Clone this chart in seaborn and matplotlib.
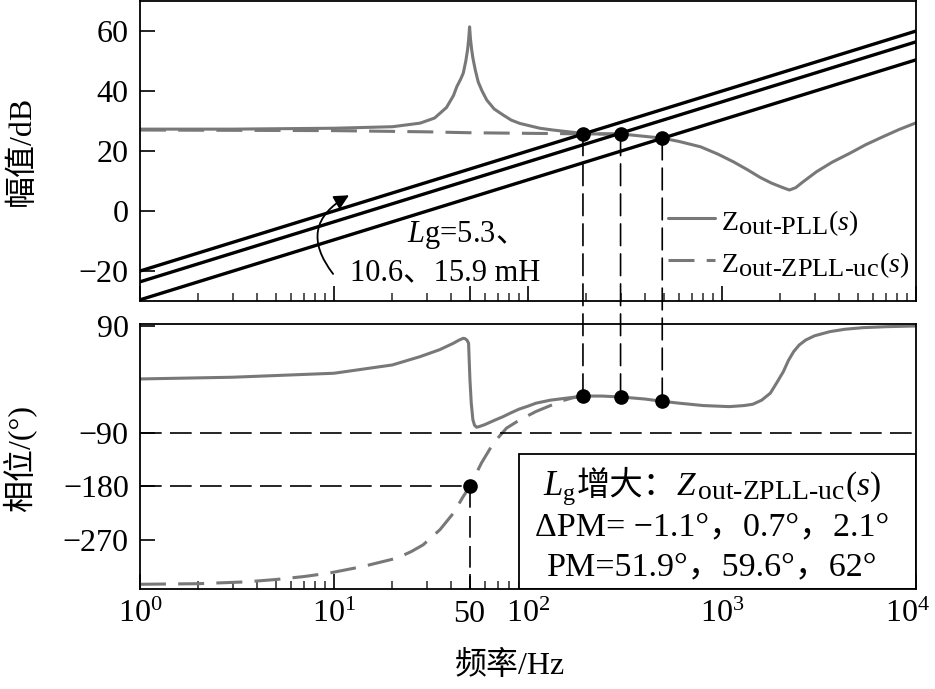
import matplotlib
matplotlib.use("Agg")
import matplotlib.pyplot as plt
import seaborn as sns
from matplotlib.patches import ConnectionPatch, Rectangle
from matplotlib.offsetbox import TextArea, HPacker, AnnotationBbox
from matplotlib.ticker import FixedLocator, LogLocator, NullFormatter
from matplotlib.transforms import ScaledTranslation

# --- magnitude curves ---
pll_freq = [1, 3, 10, 20, 27.8, 33, 38, 41.3, 43, 45, 46.4, 47.8, 48.8, 49.5,
            50, 50.5, 51.2, 52, 53.5, 55.4, 58, 61.3, 67, 74.5, 82, 90.8, 115,
            134.6, 178, 192, 300, 492, 600, 776, 950, 1145, 1350, 1573, 1800,
            2040, 2225, 2400, 2600, 3070, 3700, 4540, 5500, 6770, 8200, 10000]
pll_mag = [27.3, 27.3, 27.6, 28.1, 29.3, 31.0, 34.5, 38.5, 41.5, 44.0, 46.0,
           50.0, 53.7, 57.5, 61.4, 57.5, 54.0, 51.0, 47.0, 43.0, 40.0, 37.0,
           34.0, 32.0, 30.3, 29.2, 27.6, 27.0, 26.1, 25.7, 25.7, 24.3, 23.2,
           21.4, 19.0, 16.4, 13.8, 11.2, 9.3, 7.9, 7.0, 7.8, 9.6, 13.1, 16.3,
           19.2, 22.1, 24.8, 27.2, 29.4]

uc_freq = [1, 10, 30, 50, 100, 150, 192, 250, 300]
uc_mag = [27.0, 26.8, 26.4, 26.1, 25.9, 25.8, 25.7, 25.7, 25.6]

# --- phase curves ---
pll_ph_freq = [1, 3, 10, 20, 27.8, 35, 41.3, 44, 46.4, 47.5, 48.5, 49.4, 49.8,
               50.2, 51, 52, 53, 54.3, 56, 60, 67, 74.5, 82, 90, 100, 110, 130,
               158, 192, 240, 300, 400, 492, 601, 800, 1092, 1300, 1441, 1600,
               1774, 1920, 2070, 2200, 2340, 2500, 2705, 3000, 3600, 4300, 5330,
               7000, 10000]
pll_phase = [0.8, 3.7, 10.4, 24.4, 38.4, 50, 61, 66, 69.3, 68.5, 66, 61, 30,
             0, -40, -68, -77, -80.5, -79.5, -76, -69, -62.6, -56, -50, -45,
             -40, -35, -31.5, -28, -28, -29.5, -33, -36.8, -40, -44, -45.8, -44,
             -41.8, -35, -23.2, -5, 13, 32, 46.8, 58, 66.5, 73.5, 80.5, 84.5,
             87.2, 88.8, 90]

uc_ph_freq = [1, 2, 3.5, 5, 7, 9.5, 14.1, 21.1, 25, 28.8, 35.2, 41.3, 46.4,
              50.2, 57.5, 66.4, 77.5, 90.8, 110, 124, 150, 170, 192]
uc_phase = [-345, -344, -341, -337, -332, -326, -315, -301, -290, -278.6,
            -253, -225, -197, -180, -141, -107, -82, -68, -54, -47, -36, -31, -28]

# --- grid impedance lines for Lg = 5.3, 10.6, 15.9 mH (end points) ---
lg_freq = [1, 10000]
lg_mag_53 = [-29.6, 50.4]
lg_mag_106 = [-23.6, 56.4]
lg_mag_159 = [-20.0, 60.0]

# crossing points
cross_freq = [192, 300, 492]
cross_mag = [25.7, 25.7, 24.3]
cross_phase = [-27.8, -29.5, -36.8]
pc_freq = [50]
pc_phase = [-180]

xtick_vals = [1, 10, 50, 100, 1000, 10000]
xtick_labels = [r"$10^{0}$", r"$10^{1}$", "50", r"$10^{2}$", r"$10^{3}$", r"$10^{4}$"]
mag_ticks = [60, 40, 20, 0, -20]
phase_ticks = [90, -90, -180, -270]

GRAY = "#787878"

sns.set_theme(style="ticks")
plt.rcParams["font.family"] = ["Liberation Serif", "Noto Sans CJK SC"]
plt.rcParams["mathtext.fontset"] = "custom"
plt.rcParams["mathtext.rm"] = "Liberation Serif"
plt.rcParams["mathtext.it"] = "Liberation Serif:italic"
plt.rcParams["axes.unicode_minus"] = True
plt.rcParams["text.color"] = "black"
plt.rcParams["axes.labelcolor"] = "black"


def rich_text(ax, parts, xy, align, coords="data"):
    # mathtext and CJK can't share one string, so pack the pieces side by side
    areas = [TextArea(s, textprops=dict(fontsize=sz, color="black")) for s, sz in parts]
    box = HPacker(children=areas, align="baseline", pad=0, sep=0)
    ab = AnnotationBbox(box, xy, xycoords=coords, box_alignment=align,
                        frameon=False, pad=0, zorder=4)
    ax.add_artist(ab)


def z_parts(sub, size, sub_size, italic=False):
    z = r"$Z$" if italic else "Z"
    return [(z, size), (r"${}_{\mathrm{" + sub + "}}$", sub_size / 0.7),
            (r"$(s)$", size)]


fig = plt.figure(figsize=(9.35, 6.89), dpi=100)
ax1 = fig.add_axes([0.1497, 0.5631, 0.8300, 0.4354])
ax2 = fig.add_axes([0.1497, 0.1451, 0.8300, 0.3847])

for ax in (ax1, ax2):
    ax.set_xscale("log")

# magnitude
sns.lineplot(x=uc_freq, y=uc_mag, ax=ax1, color=GRAY, linewidth=2.2,
             estimator=None, sort=False)
ax1.lines[-1].set_dashes((8.5, 4))
sns.lineplot(x=pll_freq, y=pll_mag, ax=ax1, color=GRAY, linewidth=2.2,
             estimator=None, sort=False)
for mags in (lg_mag_53, lg_mag_106, lg_mag_159):
    sns.lineplot(x=lg_freq, y=mags, ax=ax1, color="black", linewidth=2.4,
                 estimator=None, sort=False)
ax1.plot(cross_freq, cross_mag, "o", color="black", ms=9.5, zorder=6)

# phase
sns.lineplot(x=uc_ph_freq, y=uc_phase, ax=ax2, color=GRAY, linewidth=2.2,
             estimator=None, sort=False)
ax2.lines[-1].set_dashes((8.5, 4))
sns.lineplot(x=pll_ph_freq, y=pll_phase, ax=ax2, color=GRAY, linewidth=2.2,
             estimator=None, sort=False)
ax2.plot(cross_freq, cross_phase, "o", color="black", ms=9.5, zorder=6)
ax2.plot(pc_freq, pc_phase, "o", color="black", ms=9.5, zorder=6)

ax1.set_xlim(1, 10000)
ax2.set_xlim(1, 10000)
ax1.set_ylim(-30, 70)
ax2.set_ylim(-353, 93.4)

dash_kw = dict(color="black", linewidth=1.2, dashes=(13, 5))
ax2.axhline(-90, **dash_kw)
ax2.plot([ax2.get_xlim()[0], pc_freq[0]], [pc_phase[0]] * 2, **dash_kw)
ax2.plot([pc_freq[0]] * 2, [pc_phase[0], ax2.get_ylim()[0]], **dash_kw)

for f, m, p in zip(cross_freq, cross_mag, cross_phase):
    con = ConnectionPatch(xyA=(f, m), coordsA=ax1.transData,
                          xyB=(f, p), coordsB=ax2.transData,
                          color="black", linewidth=1.2, linestyle=(0, (13, 5)))
    fig.add_artist(con)

# ticks and spines
for ax in (ax1, ax2):
    ax.xaxis.set_major_locator(FixedLocator(xtick_vals))
    ax.xaxis.set_minor_locator(LogLocator(base=10, subs=range(2, 10), numticks=20))
    ax.xaxis.set_minor_formatter(NullFormatter())
    ax.tick_params(which="major", direction="in", length=11, width=1.2,
                   labelsize=23, pad=8, colors="black")
    ax.tick_params(which="minor", direction="in", length=6, width=1.1)
    ax.tick_params(top=False, right=False, which="both")
    for sp in ax.spines.values():
        sp.set_color("black")
        sp.set_linewidth(1.3)

ax1.set_yticks(mag_ticks)
ax1.set_xticklabels([])
ax2.set_yticks(phase_ticks)
ax2.set_xticklabels(xtick_labels)
last = ax2.get_xticklabels()[-1]
last.set_transform(last.get_transform() + ScaledTranslation(-0.09, 0, fig.dpi_scale_trans))

ax1.set_ylabel("幅值/dB", fontsize=23)
ax1.yaxis.set_label_coords(-0.133, 0.5)
ax2.set_ylabel("相位/(°)", fontsize=23)
ax2.yaxis.set_label_coords(-0.133, 0.494)
ax2.set_xlabel("频率/Hz", fontsize=23)
ax2.xaxis.set_label_coords(0.477, -0.235)

# annotation for Lg
rich_text(ax1, [(r"$L$g=5.3", 22), ("、", 22)], (23.7, -13.3), (0, 0))
ax1.text(12.1, -23.0, "10.6、15.9 mH", fontsize=22, va="baseline", ha="left")
ax1.annotate("", xy=(12.3, 5.7), xytext=(10.1, -21.7),
             arrowprops=dict(arrowstyle="-|>", color="black", lw=1.3,
                             mutation_scale=22,
                             connectionstyle="arc3,rad=-0.6"))

# legend, drawn by hand so the subscripts can be as big as in the original
ax1.plot([0.680, 0.741], [0.277, 0.277], transform=ax1.transAxes,
         color=GRAY, lw=2.2)
ax1.plot([0.680, 0.741], [0.137, 0.137], transform=ax1.transAxes,
         color=GRAY, lw=2.2, dashes=(8.5, 4))
rich_text(ax1, z_parts(r"out\text{-}PLL", 20, 19), (0.749, 0.268),
          (0, 0.5), coords="axes fraction")
rich_text(ax1, z_parts(r"out\text{-}ZPLL\text{-}uc", 20, 19), (0.749, 0.128),
          (0, 0.5), coords="axes fraction")

# boxed note in the phase plot
ax2.add_patch(Rectangle((0.489, 0), 0.511, 0.509, transform=ax2.transAxes,
                        facecolor="white", edgecolor="black", lw=1.3, zorder=2))
rich_text(ax2, [(r"$L_{\mathrm{g}}$", 25), ("增大：", 24)]
          + z_parts(r"out\text{-}ZPLL\text{-}uc", 24, 20, italic=True),
          (0.737, 0.386), (0.5, 0.5), coords="axes fraction")
ax2.text(0.737, 0.235, "ΔPM= −1.1°，0.7°，2.1°", transform=ax2.transAxes,
         fontsize=24.5, ha="center", va="center", zorder=4)
ax2.text(0.737, 0.084, "PM=51.9°，59.6°，62°", transform=ax2.transAxes,
         fontsize=24.5, ha="center", va="center", zorder=4)

fig.savefig("out.png", dpi=100)
